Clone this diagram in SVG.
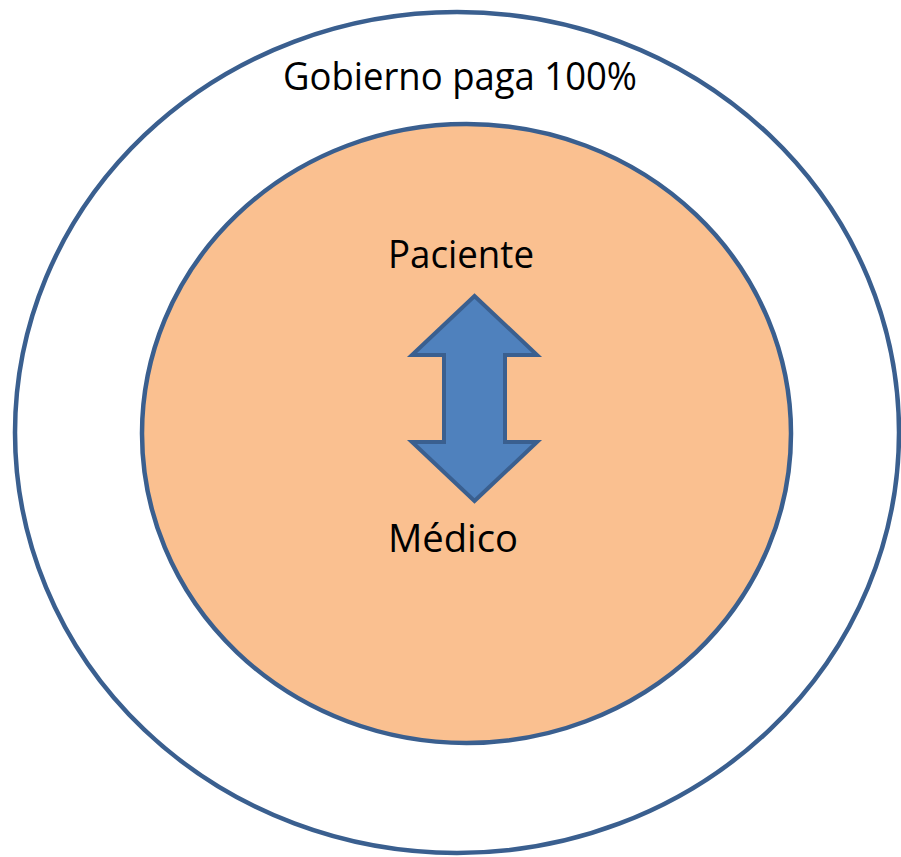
<svg xmlns="http://www.w3.org/2000/svg" width="901" height="857" viewBox="0 0 901 857">
  <style>
    .ring { stroke: #3A5F8F; stroke-width: 4.5; }
    .label { font-family: "Open Sans", "Liberation Sans", sans-serif; font-size: 38px; fill: #000; text-anchor: middle; }
  </style>
  <rect width="901" height="857" fill="#ffffff"/>
  <g id="gobierno">
    <ellipse class="ring" cx="457" cy="432.5" rx="442" ry="420.5" fill="#ffffff"/>
    <text class="label" x="460" y="90" textLength="354" lengthAdjust="spacingAndGlyphs">Gobierno paga 100%</text>
  </g>
  <g id="interno">
    <ellipse class="ring" cx="466.5" cy="433.5" rx="324.5" ry="309.5" fill="#FAC090"/>
  </g>
  <g id="paciente">
    <text class="label" x="461" y="268" textLength="146" lengthAdjust="spacingAndGlyphs">Paciente</text>
  </g>
  <g id="medico">
    <text class="label" x="453" y="552" textLength="130" lengthAdjust="spacingAndGlyphs">Médico</text>
  </g>
  <g id="conectores">
    <polygon points="474.5,296 537,355 505,355 505,442 537,442 474.5,501 412,442 444,442 444,355 412,355" fill="#4F81BD" stroke="#3A5F8F" stroke-width="4" stroke-linejoin="miter"/>
  </g>
</svg>
